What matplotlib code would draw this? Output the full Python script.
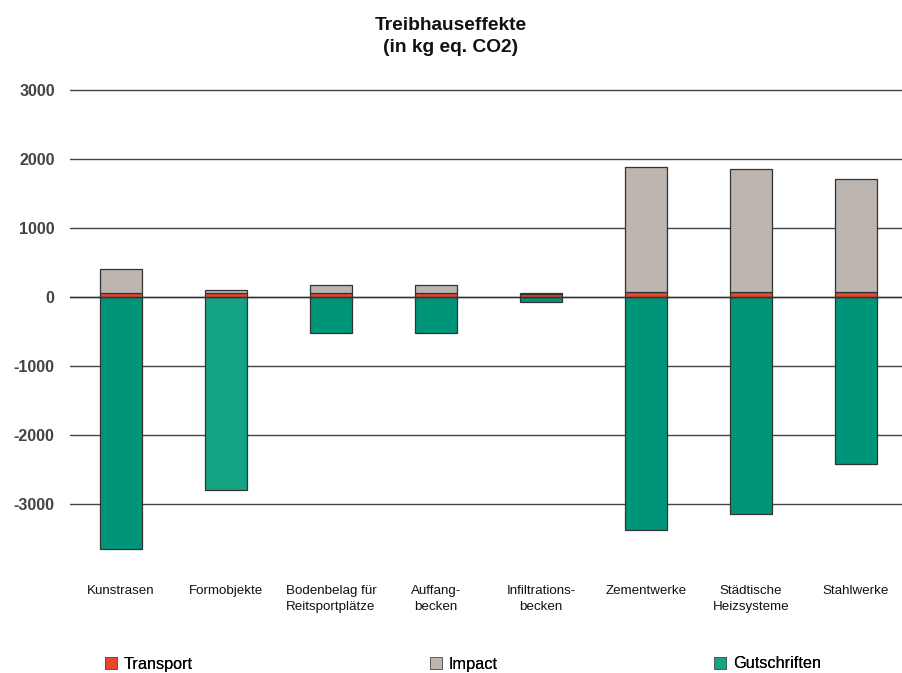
import matplotlib.pyplot as plt
from matplotlib.patches import Patch

plt.rcParams["font.family"] = ["Liberation Sans", "DejaVu Sans"]

categories = ["Kunstrasen", "Formobjekte", "Bodenbelag für\nReitsportplätze",
              "Auffang-\nbecken", "Infiltrations-\nbecken", "Zementwerke",
              "Städtische\nHeizsysteme", "Stahlwerke"]
transport = [60, 50, 60, 60, 45, 65, 65, 65]
impact = [350, 50, 115, 115, 5, 1820, 1790, 1645]
gutschriften = [-3650, -2800, -520, -520, -70, -3380, -3150, -2420]
yticks = [-3000, -2000, -1000, 0, 1000, 2000, 3000]

RED = "#E8472B"
GREY = "#BCB5B0"
GREEN = "#009479"
GREEN_LIGHT = "#15A483"

fig = plt.figure(figsize=(9.02, 6.73), dpi=100)
ax = fig.add_axes([70 / 902, 0.159, 832 / 902, 0.728])

x = list(range(len(categories)))
green_colors = [GREEN_LIGHT if i == 1 else GREEN for i in x]
edge = dict(edgecolor="#333333", linewidth=0.9)

ax.bar(x, gutschriften, width=0.4, color=green_colors, zorder=3, **edge)
ax.bar(x, transport, width=0.4, color=RED, zorder=3, **edge)
ax.bar(x, impact, width=0.4, bottom=transport, color=GREY, zorder=3, **edge)

ax.set_xlim(-0.486, 7.44)
ax.set_ylim(-3900, 3200)
ax.set_yticks(yticks)
ax.set_yticklabels([str(t) for t in yticks], fontsize=11.5, fontweight="bold",
                   color="#444444")
ax.yaxis.grid(True, color="#444444", linewidth=1.0, zorder=1)
ax.tick_params(axis="y", length=0, pad=11)
ax.axhline(0, color="#333333", linewidth=1.0, zorder=4)

ax.set_xticks(x)
ax.set_xticklabels(categories, fontsize=9.6, color="#111111", linespacing=1.45)
ax.tick_params(axis="x", length=0, pad=14)
for s in ax.spines.values():
    s.set_visible(False)

fig.text(0.5, 0.975, "Treibhauseffekte\n(in kg eq. CO2)", ha="center", va="top",
         fontsize=13.8, fontweight="bold", color="#111111", linespacing=1.4)

# legend entries spread along the bottom
entries = [("Transport", RED, 105), ("Impact", GREY, 430), ("Gutschriften", GREEN_LIGHT, 714)]
for label, color, px in entries:
    lg = fig.legend(handles=[Patch(facecolor=color, edgecolor="#555555", linewidth=0.6,
                                   label=label)],
                    loc="center left", bbox_to_anchor=(px / 902, 1 - 664 / 673),
                    frameon=False, fontsize=11.7, handlelength=0.75, handleheight=0.75,
                    handletextpad=0.4, borderpad=0, borderaxespad=0)
    fig.add_artist(lg)

fig.savefig("out.png", dpi=100, facecolor="white")
